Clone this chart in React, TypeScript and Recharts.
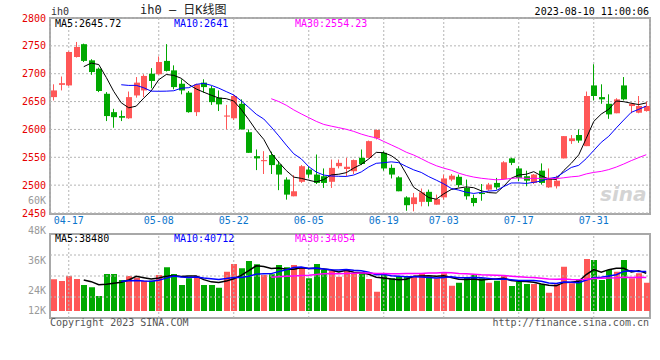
import React from 'react';
import { ComposedChart, Bar, Line, XAxis, YAxis, CartesianGrid, ReferenceLine } from 'recharts';

// trading days shown (04-13 .. 08-09)
const DATES = [
  '04-13', '04-14', '04-17', '04-18', '04-19', '04-20', '04-21', '04-24', '04-25', '04-26',
  '04-27', '04-28', '05-04', '05-05', '05-08', '05-09', '05-10', '05-11', '05-12', '05-15',
  '05-16', '05-17', '05-18', '05-19', '05-22', '05-23', '05-24', '05-25', '05-26', '05-29',
  '05-30', '05-31', '06-01', '06-02', '06-05', '06-06', '06-07', '06-08', '06-09', '06-12',
  '06-13', '06-14', '06-15', '06-16', '06-19', '06-20', '06-21', '06-26', '06-27', '06-28',
  '06-29', '06-30', '07-03', '07-04', '07-05', '07-06', '07-07', '07-10', '07-11', '07-12',
  '07-13', '07-14', '07-17', '07-18', '07-19', '07-20', '07-21', '07-24', '07-25', '07-26',
  '07-27', '07-28', '07-31', '08-01', '08-02', '08-03', '08-04', '08-07', '08-08', '08-09',
];

const OPEN = [
  2658, 2680, 2679, 2730, 2753, 2724, 2709, 2664, 2631, 2624,
  2620, 2661, 2670, 2700, 2699, 2723, 2706, 2682, 2666, 2631,
  2684, 2674, 2657, 2623, 2620, 2646, 2595, 2552, 2543, 2554,
  2537, 2510, 2480, 2506, 2528, 2519, 2516, 2506, 2534, 2529,
  2525, 2549, 2549, 2584, 2558, 2531, 2514, 2478, 2466, 2470,
  2488, 2465, 2478, 2510, 2515, 2495, 2477, 2486, 2492, 2504,
  2511, 2548, 2530, 2516, 2504, 2526, 2496, 2498, 2548, 2579,
  2590, 2570, 2679, 2658, 2646, 2629, 2679, 2642, 2630, 2633,
];
const HIGH = [
  2681, 2695, 2740, 2757, 2754, 2726, 2711, 2667, 2637, 2634,
  2668, 2694, 2699, 2710, 2731, 2753, 2715, 2690, 2669, 2682,
  2690, 2678, 2670, 2644, 2663, 2654, 2600, 2564, 2561, 2560,
  2543, 2514, 2518, 2536, 2534, 2555, 2530, 2546, 2546, 2549,
  2546, 2564, 2580, 2600, 2561, 2537, 2516, 2480, 2486, 2494,
  2492, 2483, 2519, 2520, 2519, 2510, 2483, 2502, 2504, 2513,
  2543, 2549, 2534, 2526, 2520, 2539, 2530, 2517, 2588, 2590,
  2600, 2668, 2717, 2681, 2663, 2656, 2694, 2648, 2660, 2650,
];
const LOW = [
  2652, 2670, 2678, 2729, 2721, 2698, 2667, 2615, 2603, 2615,
  2619, 2657, 2658, 2674, 2698, 2704, 2672, 2663, 2630, 2624,
  2666, 2644, 2633, 2600, 2617, 2600, 2558, 2527, 2520, 2520,
  2491, 2474, 2480, 2504, 2513, 2502, 2495, 2495, 2530, 2516,
  2520, 2536, 2548, 2582, 2526, 2512, 2489, 2454, 2453, 2462,
  2462, 2465, 2474, 2507, 2496, 2474, 2462, 2472, 2490, 2492,
  2510, 2536, 2507, 2498, 2502, 2501, 2495, 2494, 2548, 2574,
  2576, 2570, 2652, 2646, 2619, 2629, 2652, 2629, 2629, 2632,
];
const CLOSE = [
  2670, 2683, 2739, 2748, 2723, 2703, 2669, 2624, 2622, 2621,
  2658, 2684, 2696, 2687, 2721, 2705, 2676, 2670, 2631, 2681,
  2676, 2649, 2645, 2625, 2660, 2600, 2558, 2548, 2545, 2536,
  2519, 2483, 2489, 2534, 2519, 2504, 2504, 2531, 2540, 2533,
  2545, 2538, 2579, 2599, 2530, 2519, 2489, 2464, 2478, 2487,
  2470, 2475, 2512, 2517, 2500, 2480, 2468, 2484, 2501, 2496,
  2541, 2540, 2513, 2508, 2519, 2504, 2512, 2508, 2588, 2584,
  2580, 2660, 2660, 2654, 2627, 2654, 2654, 2646, 2642, 2642,
];
const VOLUME = [
  28300, 27600, 29600, 28400, 26000, 25100, 21600, 30400, 30400, 28000,
  29600, 28900, 27700, 27700, 30000, 33100, 30400, 26000, 28700, 29600,
  26000, 26000, 24900, 31300, 34400, 32700, 35600, 34300, 30000, 30300,
  34000, 33100, 34000, 33100, 28700, 34400, 32000, 31600, 29300, 32000,
  30700, 31100, 28400, 23300, 30300, 28700, 29600, 29600, 29300, 30700,
  29300, 28700, 30700, 25700, 26900, 28900, 30000, 28700, 26900, 27700,
  30000, 25600, 27300, 26400, 26400, 26300, 22900, 26300, 33300, 26700,
  28300, 36400, 36000, 28000, 32000, 31300, 36000, 28700, 30700, 26900,
];

const PRICE_TICKS = [2450, 2500, 2550, 2600, 2650, 2700, 2750, 2800];
const DATE_TICKS = ['04-17', '05-08', '05-22', '06-05', '06-19', '07-03', '07-17', '07-31'];
const VOL_TICKS = [12000, 24000, 36000, 48000, 60000];
const VOL_GRID = [21200, 29600, 38000];
const VOL_PANEL = [12800, 46400];
const VOL_FLOOR = 15600;

const PRICE_LEGEND = ['MA5:2645.72', 'MA10:2641', 'MA30:2554.23'];
const VOL_LEGEND = ['MA5:38480', 'MA10:40712', 'MA30:34054'];

const RED = '#ff5757';
const GREEN = '#00a800';
const MA_COLORS = ['#000000', '#0000ff', '#ff00ff'];
const LEGEND_X = [55, 174, 295];
const MONO = '"DejaVu Sans Mono", monospace';
const GRID = '#b4b4b4';

const movingAverage = (values: number[], n: number) =>
  values.map((_, i) =>
    i < n - 1 ? null : values.slice(i - n + 1, i + 1).reduce((a, b) => a + b, 0) / n
  );

const closeMa5 = movingAverage(CLOSE, 5);
const closeMa10 = movingAverage(CLOSE, 10);
const closeMa30 = movingAverage(CLOSE, 30);
const volMa5 = movingAverage(VOLUME, 5);
const volMa10 = movingAverage(VOLUME, 10);
const volMa30 = movingAverage(VOLUME, 30);

const rows = DATES.map((date, i) => ({
  date,
  open: OPEN[i],
  high: HIGH[i],
  low: LOW[i],
  close: CLOSE[i],
  vol: VOLUME[i],
  ma5: closeMa5[i],
  ma10: closeMa10[i],
  ma30: closeMa30[i],
  vma5: volMa5[i],
  vma10: volMa10[i],
  vma30: volMa30[i],
}));

const Candle = (props: any) => {
  const { x, y, width, height, payload } = props;
  if (x == null || !payload) return null;
  const { open, close, high, low } = payload;
  const top = Math.min(y, y + height);
  const h = Math.abs(height);
  const k = high > low ? h / (high - low) : 0;
  const color = close >= open ? RED : GREEN;
  const left = Math.round(x);
  const mid = left + Math.floor(width / 2) - 0.5;
  const bodyTop = top + (high - Math.max(open, close)) * k;
  const bodyH = Math.max(1, Math.abs(close - open) * k);
  return (
    <g>
      <line x1={mid} x2={mid} y1={top} y2={top + h} stroke={color} strokeWidth={1} />
      <rect x={left} y={bodyTop} width={width} height={bodyH} fill={color} />
    </g>
  );
};

const VolumeBar = (props: any) => {
  const { x, y, width, height, payload } = props;
  if (x == null || !payload) return null;
  const top = Math.min(y, y + height);
  return (
    <rect
      x={Math.round(x)}
      y={top}
      width={width}
      height={Math.abs(height)}
      fill={payload.close >= payload.open ? RED : GREEN}
    />
  );
};

const VolumeTick = (props: any) => {
  const { x, y, payload } = props;
  const v = payload.value;
  return (
    <text
      x={x}
      y={v === VOL_TICKS[0] ? y - 10 : y}
      dy="0.355em"
      textAnchor="end"
      fill="#9a9a9a"
      fontSize={10}
      fontFamily={MONO}
    >
      {`${v / 1000}K`}
    </text>
  );
};

const label = (text: string, style: React.CSSProperties) => (
  <div style={{ position: 'absolute', fontSize: 10, lineHeight: '10px', whiteSpace: 'nowrap', fontFamily: MONO, ...style }}>
    {text}
  </div>
);

export default function App() {
  return (
    <div style={{ position: 'absolute', left: 0, top: 0, width: 660, height: 360, background: '#fff', fontFamily: MONO }}>
      {label('ih0', { left: 51, top: 7, color: '#333' })}
      <div style={{ position: 'absolute', left: 140, top: 3, fontSize: 12, lineHeight: '14px', fontFamily: `${MONO}, "Noto Sans CJK SC"`, color: '#222', whiteSpace: 'nowrap' }}>
        ih0 – 日K线图
      </div>
      {label('2023-08-10 11:00:06', { right: 11, top: 7, color: '#000' })}

      <div style={{ position: 'absolute', left: 49, top: 17, width: 602, height: 198, boxSizing: 'border-box', border: '2px solid #a8a8a8' }} />
      <div style={{ position: 'absolute', left: 49, top: 233, width: 602, height: 86, boxSizing: 'border-box', border: '2px solid #a8a8a8' }} />

      <div style={{ position: 'absolute', left: 0, top: 0 }}>
        <ComposedChart width={660} height={240} data={rows} margin={{ top: 18, right: 10, left: 4, bottom: 5 }}>
          <CartesianGrid stroke={GRID} strokeDasharray="2 2" />
          <XAxis
            dataKey="date"
            ticks={DATE_TICKS}
            interval={0}
            axisLine={false}
            tickLine={false}
            tickSize={0}
            tickMargin={4}
            height={22}
            tick={{ fill: '#0b75cc', fontSize: 10, fontFamily: MONO }}
          />
          <YAxis
            domain={[2450, 2800]}
            ticks={PRICE_TICKS}
            interval={0}
            width={46}
            axisLine={false}
            tickLine={false}
            tickSize={0}
            tickMargin={4}
            tick={{ fill: '#e60000', fontSize: 10, fontFamily: MONO }}
          />
          <Bar dataKey={(d: any) => [d.low, d.high]} barSize={6} shape={Candle} isAnimationActive={false} />
          <Line dataKey="ma5" stroke={MA_COLORS[0]} dot={false} activeDot={false} strokeWidth={1} isAnimationActive={false} />
          <Line dataKey="ma10" stroke={MA_COLORS[1]} dot={false} activeDot={false} strokeWidth={1} isAnimationActive={false} />
          <Line dataKey="ma30" stroke={MA_COLORS[2]} dot={false} activeDot={false} strokeWidth={1} isAnimationActive={false} />
        </ComposedChart>
      </div>

      <div style={{ position: 'absolute', left: 0, top: 190 }}>
        <ComposedChart width={660} height={150} data={rows} margin={{ top: 10, right: 10, left: 4, bottom: 20 }}>
          <XAxis dataKey="date" hide />
          <YAxis
            domain={[VOL_TICKS[0], VOL_TICKS[VOL_TICKS.length - 1]]}
            ticks={VOL_TICKS}
            interval={0}
            width={46}
            axisLine={false}
            tickLine={false}
            tickSize={0}
            tickMargin={4}
            tick={VolumeTick}
          />
          {VOL_GRID.map((v) => (
            <ReferenceLine key={v} y={v} stroke={GRID} strokeDasharray="2 2" />
          ))}
          {DATE_TICKS.map((d) => (
            <ReferenceLine
              key={d}
              segment={[{ x: d, y: VOL_PANEL[0] }, { x: d, y: VOL_PANEL[1] }]}
              stroke={GRID}
              strokeDasharray="2 2"
            />
          ))}
          <Bar dataKey={(d: any) => [VOL_FLOOR, d.vol]} barSize={6} shape={VolumeBar} isAnimationActive={false} />
          <Line dataKey="vma5" stroke={MA_COLORS[0]} dot={false} activeDot={false} strokeWidth={1.5} isAnimationActive={false} />
          <Line dataKey="vma10" stroke={MA_COLORS[1]} dot={false} activeDot={false} strokeWidth={1.5} isAnimationActive={false} />
          <Line dataKey="vma30" stroke={MA_COLORS[2]} dot={false} activeDot={false} strokeWidth={1.5} isAnimationActive={false} />
        </ComposedChart>
      </div>

      {PRICE_LEGEND.map((t, i) => label(t, { left: LEGEND_X[i], top: 19, color: MA_COLORS[i] }))}
      {VOL_LEGEND.map((t, i) => label(t, { left: LEGEND_X[i], top: 234, color: MA_COLORS[i] }))}

      <div style={{ position: 'absolute', left: 600, top: 182, fontSize: 20, fontWeight: 'bold', fontStyle: 'italic', fontFamily: '"DejaVu Sans", sans-serif', color: '#d4d4d4' }}>
        sina
      </div>

      {label('Copyright 2023 SINA.COM', { left: 50, top: 318, color: '#555' })}
      {label('http://finance.sina.com.cn', { right: 11, top: 318, color: '#555' })}
    </div>
  );
}
